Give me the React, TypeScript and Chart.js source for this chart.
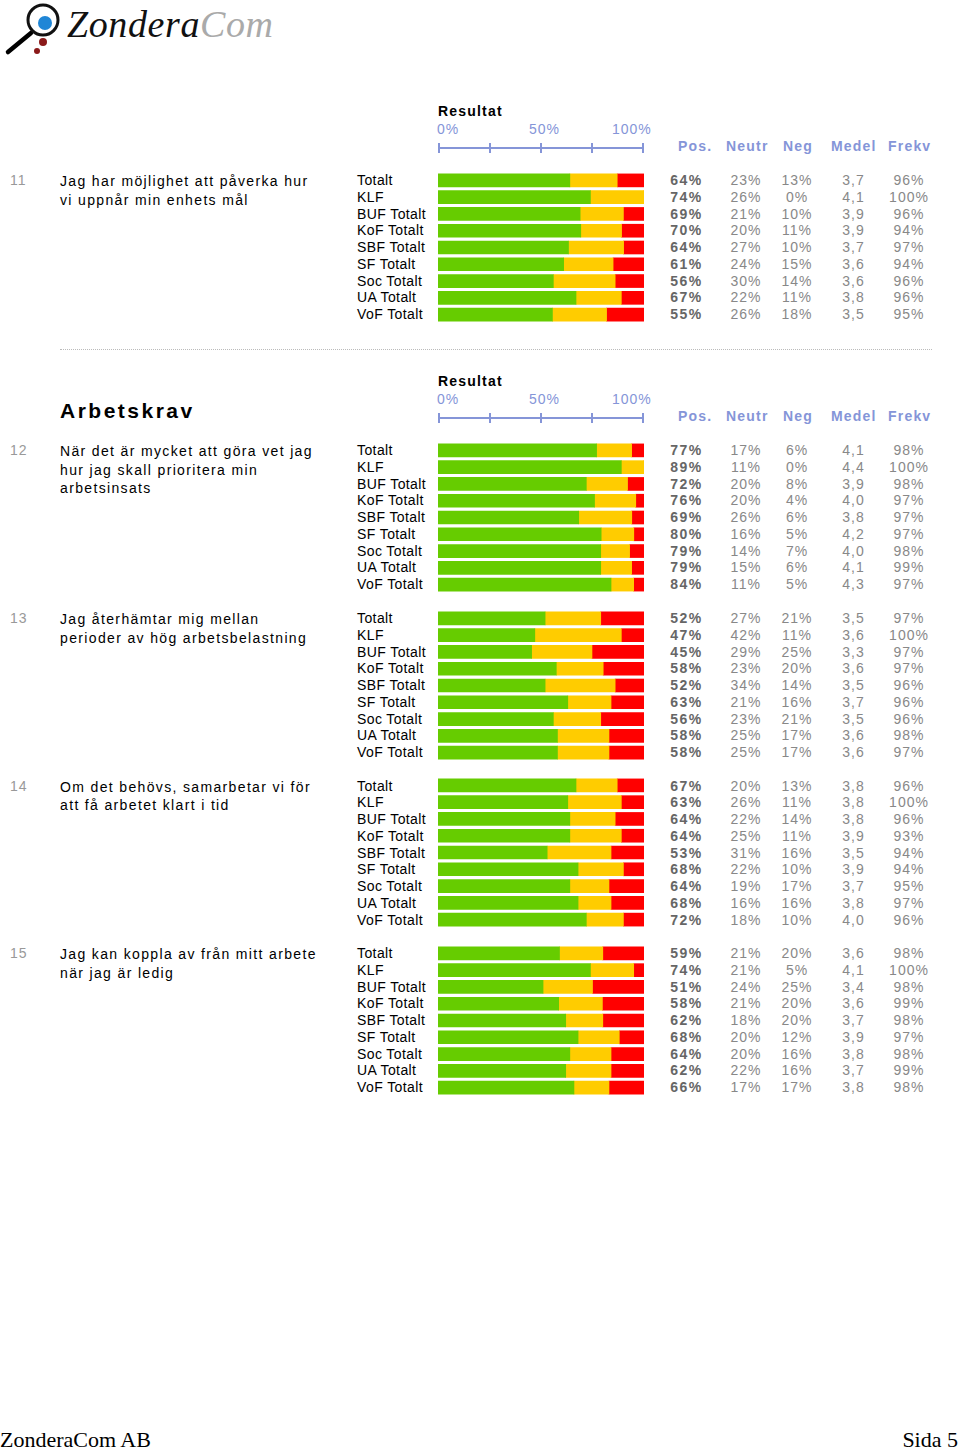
import React, { useEffect, useRef } from "react";
import { Chart, registerables } from "chart.js";
Chart.register(...registerables);

const groups = ["Totalt", "KLF", "BUF Totalt", "KoF Totalt", "SBF Totalt", "SF Totalt", "Soc Totalt", "UA Totalt", "VoF Totalt"];
const scaleLabels = ["0%", "50%", "100%"];
const columnHeaders = ["Pos.", "Neutr", "Neg", "Medel", "Frekv"];

const q11Pos = [64, 74, 69, 70, 64, 61, 56, 67, 55];
const q11Neu = [23, 26, 21, 20, 27, 24, 30, 22, 26];
const q11Neg = [13, 0, 10, 11, 10, 15, 14, 11, 18];
const q11Medel = ["3,7", "4,1", "3,9", "3,9", "3,7", "3,6", "3,6", "3,8", "3,5"];
const q11Frekv = [96, 100, 96, 94, 97, 94, 96, 96, 95];

const q12Pos = [77, 89, 72, 76, 69, 80, 79, 79, 84];
const q12Neu = [17, 11, 20, 20, 26, 16, 14, 15, 11];
const q12Neg = [6, 0, 8, 4, 6, 5, 7, 6, 5];
const q12Medel = ["4,1", "4,4", "3,9", "4,0", "3,8", "4,2", "4,0", "4,1", "4,3"];
const q12Frekv = [98, 100, 98, 97, 97, 97, 98, 99, 97];

const q13Pos = [52, 47, 45, 58, 52, 63, 56, 58, 58];
const q13Neu = [27, 42, 29, 23, 34, 21, 23, 25, 25];
const q13Neg = [21, 11, 25, 20, 14, 16, 21, 17, 17];
const q13Medel = ["3,5", "3,6", "3,3", "3,6", "3,5", "3,7", "3,5", "3,6", "3,6"];
const q13Frekv = [97, 100, 97, 97, 96, 96, 96, 98, 97];

const q14Pos = [67, 63, 64, 64, 53, 68, 64, 68, 72];
const q14Neu = [20, 26, 22, 25, 31, 22, 19, 16, 18];
const q14Neg = [13, 11, 14, 11, 16, 10, 17, 16, 10];
const q14Medel = ["3,8", "3,8", "3,8", "3,9", "3,5", "3,9", "3,7", "3,8", "4,0"];
const q14Frekv = [96, 100, 96, 93, 94, 94, 95, 97, 96];

const q15Pos = [59, 74, 51, 58, 62, 68, 64, 62, 66];
const q15Neu = [21, 21, 24, 21, 18, 20, 20, 22, 17];
const q15Neg = [20, 5, 25, 20, 20, 12, 16, 16, 17];
const q15Medel = ["3,6", "4,1", "3,4", "3,6", "3,7", "3,9", "3,8", "3,7", "3,8"];
const q15Frekv = [98, 100, 98, 99, 98, 97, 98, 99, 98];

const questions = [
  { num: "11", text: ["Jag har möjlighet att påverka hur", "vi uppnår min enhets mål"], pos: q11Pos, neu: q11Neu, neg: q11Neg, medel: q11Medel, frekv: q11Frekv, y: 180 },
  { num: "12", text: ["När det är mycket att göra vet jag", "hur jag skall prioritera min", "arbetsinsats"], pos: q12Pos, neu: q12Neu, neg: q12Neg, medel: q12Medel, frekv: q12Frekv, y: 450 },
  { num: "13", text: ["Jag återhämtar mig mellan", "perioder av hög arbetsbelastning"], pos: q13Pos, neu: q13Neu, neg: q13Neg, medel: q13Medel, frekv: q13Frekv, y: 618 },
  { num: "14", text: ["Om det behövs, samarbetar vi för", "att få arbetet klart i tid"], pos: q14Pos, neu: q14Neu, neg: q14Neg, medel: q14Medel, frekv: q14Frekv, y: 785.5 },
  { num: "15", text: ["Jag kan koppla av från mitt arbete", "när jag är ledig"], pos: q15Pos, neu: q15Neu, neg: q15Neg, medel: q15Medel, frekv: q15Frekv, y: 953 },
];

const ROW = 16.75;
const SANS = '"Liberation Sans", Arial, Helvetica, sans-serif';
const SERIF = '"Liberation Serif", "Times New Roman", serif';
const BLUE = "#8595d8";

function BarBlock({ pos, neu, neg, y }: { pos: number[]; neu: number[]; neg: number[]; y: number }) {
  const ref = useRef<HTMLCanvasElement | null>(null);
  useEffect(() => {
    if (!ref.current) return;
    const tot = pos.map((p, i) => p + neu[i] + neg[i]);
    const chart = new Chart(ref.current, {
      type: "bar",
      data: {
        labels: groups,
        datasets: [
          { label: "Pos", data: pos.map((v, i) => (v / tot[i]) * 100), backgroundColor: "#66cc00" },
          { label: "Neutr", data: neu.map((v, i) => (v / tot[i]) * 100), backgroundColor: "#ffcc00" },
          { label: "Neg", data: neg.map((v, i) => (v / tot[i]) * 100), backgroundColor: "#ff0000" },
        ],
      },
      options: {
        indexAxis: "y",
        animation: false,
        responsive: false,
        maintainAspectRatio: false,
        layout: { padding: 0 },
        datasets: { bar: { barThickness: 13, borderWidth: 0 } },
        scales: {
          x: { stacked: true, min: 0, max: 100, display: false },
          y: { stacked: true, display: false },
        },
        plugins: { legend: { display: false }, tooltip: { enabled: false } },
      },
    } as any);
    return () => chart.destroy();
  }, []);
  const h = ROW * 9;
  return (
    <canvas
      ref={ref}
      width={206}
      height={Math.round(h)}
      style={{ position: "absolute", left: 438, top: Math.round(y - ROW / 2), width: 206, height: Math.round(h) }}
    />
  );
}

function Txt({ x, y, children, style }: { x: number; y: number; children: any; style?: any }) {
  return (
    <div style={{ position: "absolute", left: x, top: y - 9, height: 18, lineHeight: "18px", whiteSpace: "nowrap", fontFamily: SANS, fontSize: 14, ...style }}>
      {children}
    </div>
  );
}

function CTxt({ cx, y, children, style }: { cx: number; y: number; children: any; style?: any }) {
  return (
    <div style={{ position: "absolute", left: cx - 40, width: 80, textAlign: "center", top: y - 9, height: 18, lineHeight: "18px", whiteSpace: "nowrap", fontFamily: SANS, fontSize: 14, ...style }}>
      {children}
    </div>
  );
}

function Header({ y }: { y: number }) {
  const ticks = [438, 489, 540, 591, 642];
  return (
    <>
      <Txt x={438} y={y} style={{ fontWeight: "bold", letterSpacing: 1.2, color: "#000" }}>Resultat</Txt>
      <Txt x={437} y={y + 18} style={{ color: BLUE, fontSize: 14, letterSpacing: 1 }}>{scaleLabels[0]}</Txt>
      <Txt x={529} y={y + 18} style={{ color: BLUE, fontSize: 14, letterSpacing: 1 }}>{scaleLabels[1]}</Txt>
      <Txt x={612} y={y + 18} style={{ color: BLUE, fontSize: 14, letterSpacing: 1 }}>{scaleLabels[2]}</Txt>
      <div style={{ position: "absolute", left: 438, top: y + 36, width: 206, height: 2, background: BLUE }} />
      {ticks.map((t) => (
        <div key={t} style={{ position: "absolute", left: t, top: y + 32, width: 2, height: 10, background: BLUE }} />
      ))}
      {columnHeaders.map((hd, i) => (
        <Txt key={hd} x={[678, 726, 783, 831, 888][i]} y={y + 35} style={{ color: BLUE, fontWeight: "bold", letterSpacing: 1.2 }}>{hd}</Txt>
      ))}
    </>
  );
}

function Question({ q }: { q: any }) {
  return (
    <>
      <Txt x={10} y={q.y} style={{ color: "#999", letterSpacing: 1 }}>{q.num}</Txt>
      {q.text.map((line: string, i: number) => (
        <Txt key={i} x={60} y={q.y + 1 + i * 18.5} style={{ color: "#000", letterSpacing: 1.35 }}>{line}</Txt>
      ))}
      {groups.map((g, i) => (
        <Txt key={g} x={357} y={q.y + i * ROW} style={{ color: "#000", letterSpacing: 0.4 }}>{g}</Txt>
      ))}
      <BarBlock pos={q.pos} neu={q.neu} neg={q.neg} y={q.y} />
      {groups.map((g, i) => (
        <React.Fragment key={"v" + g}>
          <CTxt cx={686.5} y={q.y + i * ROW} style={{ color: "#666", fontWeight: "bold", letterSpacing: 1.5 }}>{q.pos[i] + "%"}</CTxt>
          <CTxt cx={746} y={q.y + i * ROW} style={{ color: "#888", letterSpacing: 1 }}>{q.neu[i] + "%"}</CTxt>
          <CTxt cx={797} y={q.y + i * ROW} style={{ color: "#888", letterSpacing: 1 }}>{q.neg[i] + "%"}</CTxt>
          <CTxt cx={853.5} y={q.y + i * ROW} style={{ color: "#888", letterSpacing: 1 }}>{q.medel[i]}</CTxt>
          <CTxt cx={909} y={q.y + i * ROW} style={{ color: "#888", letterSpacing: 1 }}>{q.frekv[i] + "%"}</CTxt>
        </React.Fragment>
      ))}
    </>
  );
}

function Logo() {
  return (
    <>
      <svg width={66} height={60} style={{ position: "absolute", left: 0, top: 0 }}>
        <line x1={31} y1={33} x2={8} y2={52} stroke="#000" strokeWidth={4.5} strokeLinecap="round" />
        <circle cx={43} cy={20} r={15} fill="#fff" stroke="#111" strokeWidth={3} />
        <circle cx={45} cy={23} r={7} fill="#1f86d6" />
        <circle cx={43} cy={42} r={4} fill="#8b1a1a" />
        <circle cx={37} cy={51} r={3} fill="#8b1a1a" />
      </svg>
      <div style={{ position: "absolute", left: 67, top: 1, fontFamily: SERIF, fontStyle: "italic", fontSize: 38, lineHeight: "46px", whiteSpace: "nowrap", letterSpacing: 0.6 }}>
        <span style={{ color: "#111" }}>Zondera</span>
        <span style={{ color: "#aaa" }}>Com</span>
      </div>
    </>
  );
}

export default function App() {
  return (
    <div style={{ position: "absolute", left: 0, top: 0, width: 960, height: 1451, background: "#fff", overflow: "hidden" }}>
      <Logo />
      <Header y={111} />
      <Question q={questions[0]} />
      <div style={{ position: "absolute", left: 60, top: 349, width: 872, height: 0, borderTop: "1px dotted #bbb" }} />
      <Header y={381} />
      <div style={{ position: "absolute", left: 60, top: 397, lineHeight: "28px", fontFamily: SANS, fontSize: 21, fontWeight: "bold", letterSpacing: 2.5, color: "#000" }}>Arbetskrav</div>
      {questions.slice(1).map((q) => (
        <Question key={q.num} q={q} />
      ))}
      <div style={{ position: "absolute", left: 0, top: 1429, lineHeight: "21px", fontFamily: SERIF, fontSize: 22, color: "#000" }}>ZonderaCom AB</div>
      <div style={{ position: "absolute", right: 2, top: 1429, lineHeight: "21px", fontFamily: SERIF, fontSize: 22, color: "#000" }}>Sida 5</div>
    </div>
  );
}
